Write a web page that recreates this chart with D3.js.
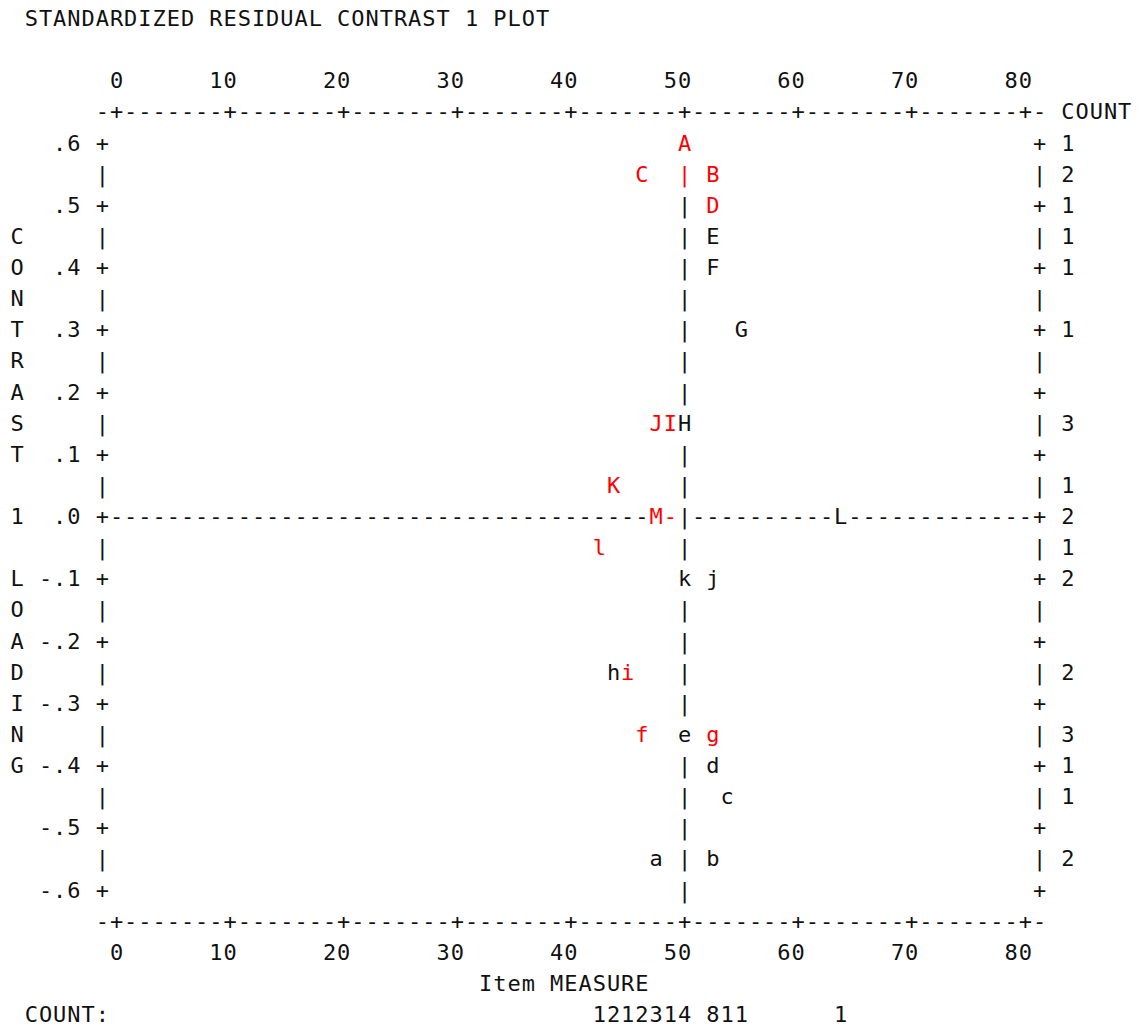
<!DOCTYPE html>
<html><head><meta charset="utf-8">
<script src="https://cdn.jsdelivr.net/npm/d3@7"></script>
<style>
body{margin:0;background:#fff}
svg text{font-family:"DejaVu Sans Mono","Liberation Mono",monospace;font-size:22px}
</style>
</head><body>
<svg id="chart" width="1147" height="1026"></svg>
<script>
// ---------- data ----------
const title = "STANDARDIZED RESIDUAL CONTRAST 1 PLOT";
const xAxisTitle = "Item MEASURE";
const yAxisTitle = "CONTRAST 1 LOADING";
const xTicks = [0, 10, 20, 30, 40, 50, 60, 70, 80];
const yTicks = [0.6, 0.5, 0.4, 0.3, 0.2, 0.1, 0.0, -0.1, -0.2, -0.3, -0.4, -0.5, -0.6];
const yTickLabels = [".6", ".5", ".4", ".3", ".2", ".1", ".0", "-.1", "-.2", "-.3", "-.4", "-.5", "-.6"];
const meanMeasure = 50;
const pointLabels = ["A","C","B","D","E","F","G","J","I","H","K","M","L","l","k","j","h","i","f","e","g","d","c","a","b"];
const measures    = [50, 46.25, 52.5, 52.5, 52.5, 52.5, 55, 47.5, 48.75, 50, 43.75, 47.5, 63.75, 42.5, 50, 52.5, 43.75, 45, 46.25, 50, 52.5, 52.5, 53.75, 47.5, 52.5];
const loadings    = [0.6, 0.55, 0.55, 0.5, 0.45, 0.4, 0.3, 0.15, 0.15, 0.15, 0.05, 0.0, 0.0, -0.05, -0.1, -0.1, -0.25, -0.25, -0.35, -0.35, -0.35, -0.4, -0.45, -0.55, -0.55];
const redPoints = ["A","C","B","D","J","I","K","M","l","i","f","g"];
// grid glyphs shown in red in the original (measure, loading)
const redMarkMeasures = [50, 48.75];
const redMarkLoadings = [0.55, 0.0];

// ---------- layout ----------
const CW = 14.2, RH = 31.125, X0 = 17.1, Y0 = 18.5;
const colX = c => X0 + c * CW;
const rowY = r => Y0 + r * RH;
const colOf = x => Math.round((x - X0) / CW);
const rowOf = y => Math.round((y - Y0) / RH);
const RED = "#ff0000", INK = "#111";

const x = d3.scaleLinear().domain([0, 80]).range([colX(7), colX(71)]);
const y = d3.scaleLinear().domain([-0.6, 0.6]).range([rowY(28), rowY(4)]);

const cLeft = colOf(x(0)) - 1, cRight = colOf(x(80)) + 1;
const rTop = rowOf(y(0.6)), rBot = rowOf(y(-0.6));

const grid = new Map();
const put = (r, c, ch, color) => { if (ch !== " ") grid.set(r + "," + c, {r, c, ch, color: color || INK}); else grid.delete(r + "," + c); };
const putStr = (r, c, s, color) => { [...s].forEach((ch, i) => put(r, c + i, ch, color)); };

// title
putStr(0, 1, title);
// axis rulers and tick labels
[rTop - 1, rBot + 1].forEach(r => {
  for (let c = cLeft; c <= cRight; c++) put(r, c, "-");
  xTicks.forEach(t => put(r, colOf(x(t)), "+"));
});
[rTop - 2, rBot + 2].forEach(r => {
  xTicks.forEach(t => { const s = String(t); putStr(r, colOf(x(t)) - s.length + 1, s); });
});
putStr(rTop - 1, cRight + 2, "COUNT");
// frame
for (let r = rTop; r <= rBot; r++) {
  const tickRow = (r - rTop) % 2 === 0;
  put(r, cLeft, tickRow ? "+" : "|");
  put(r, cRight, tickRow ? "+" : "|");
}
yTicks.forEach((t, i) => { const r = rowOf(y(t)); const s = yTickLabels[i]; putStr(r, cLeft - 1 - s.length, s); });
// zero line
const rZero = rowOf(y(0));
for (let c = cLeft + 1; c < cRight; c++) put(rZero, c, "-");
// mean line
const cMean = colOf(x(meanMeasure));
for (let r = rTop; r <= rBot; r++) put(r, cMean, "|");
// y axis title (vertical)
const yStart = rTop + Math.floor(((rBot - rTop + 1) - yAxisTitle.length) / 2);
[...yAxisTitle].forEach((ch, i) => put(yStart + i, 0, ch));
// x axis title
putStr(rBot + 3, colOf(x(40)) - Math.floor(xAxisTitle.length / 2), xAxisTitle);
// red marks
redMarkMeasures.forEach((m, i) => {
  const k = rowOf(y(redMarkLoadings[i])) + "," + colOf(x(m));
  if (grid.has(k)) grid.get(k).color = RED;
});

// points
const pts = pointLabels.map((lab, i) => ({lab, m: measures[i], l: loadings[i], red: redPoints.includes(lab)}));
pts.forEach(p => grid.delete(rowOf(y(p.l)) + "," + colOf(x(p.m))));

// counts
const rowCounts = d3.rollup(pts, v => v.length, p => rowOf(y(p.l)));
rowCounts.forEach((n, r) => putStr(r, cRight + 2, String(n)));
putStr(rBot + 4, 1, "COUNT:");
const colCounts = d3.rollup(pts, v => v.length, p => colOf(x(p.m)));
colCounts.forEach((n, c) => putStr(rBot + 4, c, String(n)));

// ---------- draw ----------
const svg = d3.select("#chart");
svg.append("rect").attr("width", 1147).attr("height", 1026).attr("fill", "#fff");
svg.append("g").selectAll("text").data([...grid.values()]).join("text")
  .attr("x", d => colX(d.c)).attr("y", d => rowY(d.r))
  .attr("text-anchor", "middle").attr("dominant-baseline", "central")
  .attr("fill", d => d.color).text(d => d.ch);
svg.append("g").selectAll("text").data(pts).join("text")
  .attr("x", d => x(d.m)).attr("y", d => y(d.l))
  .attr("text-anchor", "middle").attr("dominant-baseline", "central")
  .attr("fill", d => d.red ? RED : INK).text(d => d.lab);
</script>
</body></html>
